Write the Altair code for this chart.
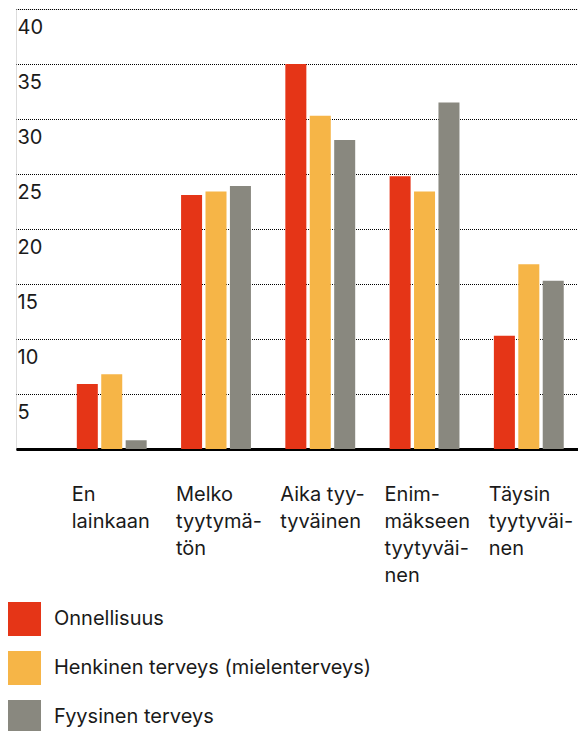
import json
import altair as alt
import pandas as pd

categories = ["En lainkaan", "Melko tyytymätön", "Aika tyytyväinen",
              "Enimmäkseen tyytyväinen", "Täysin tyytyväinen"]
label_lines = [["En", "lainkaan"], ["Melko", "tyytymä-", "tön"],
               ["Aika tyy-", "tyväinen"], ["Enim-", "mäkseen", "tyytyväi-", "nen"],
               ["Täysin", "tyytyväi-", "nen"]]
series = ["Onnellisuus", "Henkinen terveys (mielenterveys)", "Fyysinen terveys"]
colors = ["#E53517", "#F6B547", "#89887F"]
onnellisuus = [5.9, 23.1, 35.0, 24.8, 10.3]
henkinen = [6.8, 23.4, 30.3, 23.4, 16.8]
fyysinen = [0.8, 23.9, 28.1, 31.5, 15.3]
y_ticks = [0, 5, 10, 15, 20, 25, 30, 35, 40]

rows = []
for s, vals in zip(series, [onnellisuus, henkinen, fyysinen]):
    for c, v in zip(categories, vals):
        rows.append({"kategoria": c, "sarja": s, "arvo": v})
df = pd.DataFrame(rows)

label_map = json.dumps(dict(zip(categories, label_lines)), ensure_ascii=False)

FONT = "Inter"
TXT = "#1a1a1a"

chart = alt.Chart(df).mark_bar().encode(
    x=alt.X("kategoria:N", sort=categories, title=None,
            scale=alt.Scale(paddingInner=0.33, paddingOuter=0.36, align=0.81),
            axis=alt.Axis(labelAlign="left", labelBaseline="top",
                          labelOffset=-40, labelPadding=35, labelLineHeight=27,
                          labelFontSize=20, labelAngle=0, ticks=False, tickSize=0,
                          domainColor="#000000", domainWidth=3, labelColor=TXT,
                          labelExpr=f"{label_map}[datum.value]", grid=False)),
    xOffset=alt.XOffset("sarja:N", sort=series, scale=alt.Scale(paddingInner=0.14)),
    y=alt.Y("arvo:Q", title=None,
            scale=alt.Scale(domain=[0, 40], nice=False, zero=True),
            axis=alt.Axis(values=y_ticks, domain=False, ticks=False, tickSize=0,
                          labelAlign="left", labelBaseline="top", labelPadding=-1,
                          labelOffset=8, labelFlush=False, labelOverlap=False,
                          labelFontSize=20, labelColor=TXT,
                          labelExpr="datum.value == 0 ? '' : datum.label",
                          gridColor="#000000", gridDash=[1, 1], gridDashOffset=0.5,
                          gridWidth=1, gridOpacity=1)),
    color=alt.Color("sarja:N", sort=series,
                    scale=alt.Scale(domain=series, range=colors),
                    legend=alt.Legend(title=None, orient="none", legendX=-9, legendY=593,
                                      direction="vertical", symbolType="square",
                                      symbolSize=1156, symbolStrokeWidth=0,
                                      labelFontSize=20, labelOffset=13, rowPadding=15,
                                      padding=0, labelColor=TXT, labelLimit=500)),
).properties(
    width=562, height=440,
    padding={"left": 8, "top": 1, "right": 0, "bottom": 282},
    autosize=alt.AutoSizeParams(type="none"),
).configure_view(stroke=None).configure(font=FONT)

chart.save("out.html", embed_options={"renderer": "svg", "actions": False})
